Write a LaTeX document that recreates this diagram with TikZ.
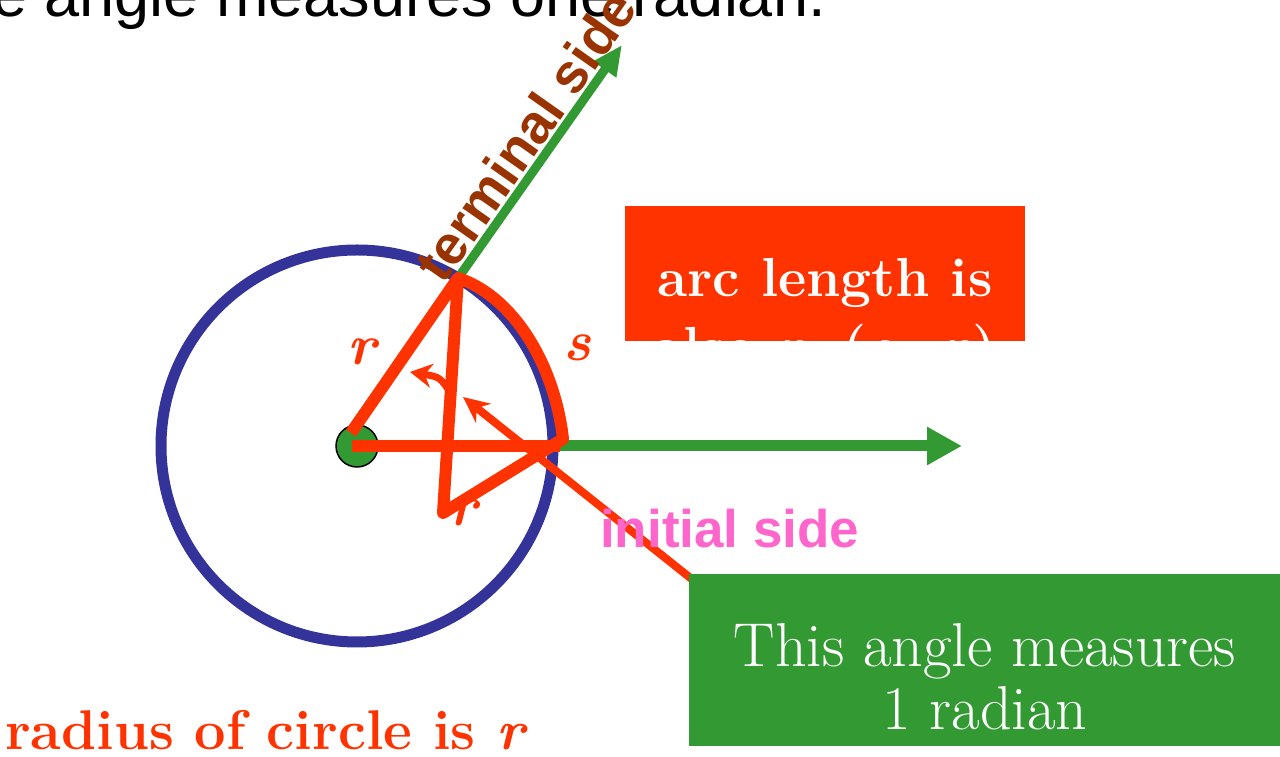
\documentclass[tikz,border=0pt]{standalone}
\usepackage{fontspec}
\newfontfamily\headfont{Liberation Sans}
\usetikzlibrary{arrows.meta}
\definecolor{arcred}{HTML}{FF3300}
\definecolor{sidegreen}{HTML}{339933}
\definecolor{circleblue}{HTML}{333399}
\definecolor{termbrown}{HTML}{993300}
\definecolor{initpink}{HTML}{FF66CC}

\begin{document}
\begin{tikzpicture}[x=1pt,y=1pt,
  redline/.style={draw=arcred,line width=12,line join=round},
  lbl/.style={inner sep=0,anchor=base,text=arcred,font=\fontsize{57}{66}\selectfont\bfseries\itshape},
  sidetext/.style={inner sep=0,font=\headfont\bfseries\fontsize{53}{60}\selectfont},
  boxtext/.style={inner sep=0,anchor=base,text=white}]
\useasboundingbox (0,0) rectangle (1280,757);
% title line, cut at the left edge
\node[anchor=base west,inner sep=0,font=\headfont\fontsize{63}{72}\selectfont] (title) at (-8,740) {e angle measures one radian.};
% points
\coordinate (O) at (357,311);
\coordinate (P) at (458,479);
\coordinate (B) at (443,244);
\coordinate (E) at (563,318);
\coordinate (G0) at (340,311);
\coordinate (T) at (622,712);
\coordinate (I) at (962,311);
% circle and the two sides
\draw[circleblue,line width=11] (O) circle (196);
\draw[sidegreen,line width=11,-{Triangle[length=35,width=36]}] (O) -- (I);
\draw[sidegreen,line width=9,-{Triangle[length=30,width=26]}] (G0) -- (T)
  node[pos=0.735,sloped,above=2,sidetext,font=\headfont\bfseries\fontsize{55}{62}\selectfont,text=termbrown] (termlabel) {terminal side};
\filldraw[fill=sidegreen,draw=black,line width=1.5] (O) circle (21);
% red sector and radius laid on the arc
\draw[redline] (351,324) -- (P) .. controls (515,460) and (555,390) .. (E) -- (B) -- (P);
\draw[redline] (352,311) -- (560,311);
\draw[draw=arcred,line width=8,-{Stealth[length=26,width=24]}] (703,169) -- (463,360);
\draw[draw=arcred,line width=7,-{Stealth[length=22,width=24]}] (452,362) .. controls (440,380) .. (410,385);
\node[lbl] (r1) at (362,392) {r};
\node[lbl] (s1) at (577,396) {s};
\node[lbl] (r2) at (463,231) {r};
\node[sidetext,text=initpink,anchor=base west] (initlabel) at (600,209) {initial side};
% boxes
\fill[arcred] (625,416) rectangle (1025,551);
\begin{scope}
\clip (625,416) rectangle (1025,551);
\node[boxtext,font=\fontsize{55}{64}\selectfont\bfseries] (arc1) at (825,460) {arc length is};
\node[boxtext,font=\fontsize{55}{64}\selectfont\bfseries] (arc2) at (825,391) {also \textit{r}, (\textit{s}=\textit{r})};
\end{scope}
\fill[sidegreen] (689,11) rectangle (1282,183);
\node[boxtext,font=\fontsize{62}{70}\selectfont] (one1) at (985,90) {This angle measures};
\node[boxtext,font=\fontsize{62}{70}\selectfont] (one2) at (985,27) {1 radian};
\node[anchor=base west,inner sep=0,text=arcred,font=\fontsize{56}{64}\selectfont\bfseries] (radius) at (5,7) {radius of circle is \textit{r}};
\end{tikzpicture}
\end{document}
